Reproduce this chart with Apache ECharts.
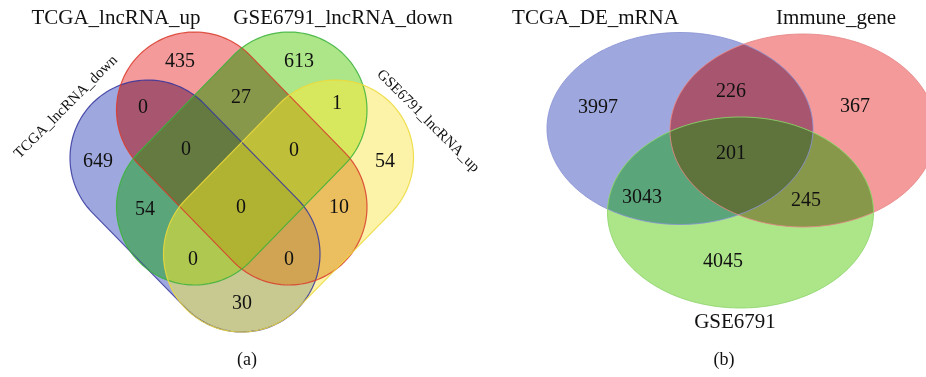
<!DOCTYPE html>
<html>
<head>
<meta charset="utf-8">
<script src="https://cdn.jsdelivr.net/npm/echarts@6/dist/echarts.min.js"></script>
<style>
html,body{margin:0;padding:0;background:#ffffff;}
#chart{width:926px;height:377px;}
</style>
</head>
<body>
<div id="chart"></div>
<script>
// ================= DATA =================
// Panel (a): four sets (B = blue, R = red, G = green, Y = yellow)
const setNamesA = ['TCGA_lncRNA_down', 'TCGA_lncRNA_up', 'GSE6791_lncRNA_down', 'GSE6791_lncRNA_up'];
const setKeysA = ['B', 'R', 'G', 'Y'];
const regionKeysA = ['B', 'R', 'G', 'Y', 'BR', 'RG', 'GY', 'BG', 'RY', 'BY', 'BRG', 'RGY', 'BGY', 'BRY', 'BRGY'];
const regionCountsA = [649, 435, 613, 54, 0, 27, 1, 54, 10, 30, 0, 0, 0, 0, 0];

// Panel (b): three sets
const setNamesB = ['TCGA_DE_mRNA', 'Immune_gene', 'GSE6791'];
const setKeysB = ['B', 'R', 'G'];
const regionKeysB = ['B', 'R', 'G', 'BR', 'BG', 'RG', 'BRG'];
const regionCountsB = [3997, 367, 4045, 226, 3043, 245, 201];

const panelLabels = ['(a)', '(b)'];

// ================= LAYOUT & STYLE =================
const W = 926, H = 377;
const shapesA = {
  B: { kind: 'capsule', p1: [148, 158], p2: [242, 254], r: 78 },
  R: { kind: 'capsule', p1: [194.5, 110], p2: [289, 207], r: 78 },
  G: { kind: 'capsule', p1: [289, 110], p2: [194.5, 207], r: 78 },
  Y: { kind: 'capsule', p1: [335.5, 158], p2: [241.5, 254], r: 78 }
};
const shapesB = {
  B: { kind: 'ellipse', c: [680, 128.5], rx: 133, ry: 96 },
  R: { kind: 'ellipse', c: [803, 130.5], rx: 133, ry: 96.5 },
  G: { kind: 'ellipse', c: [740.5, 212.5], rx: 133, ry: 95.5 }
};
const regionColorsA = {
  B: '#9FA8DE', R: '#F49A9A', G: '#ACE688', Y: '#FDF3A8',
  BR: '#A8566F', RG: '#88984A', GY: '#D7E85F', BG: '#5AA57A', RY: '#EBBE60', BY: '#C8C891',
  BRG: '#647A40', RGY: '#BFBF3A', BGY: '#AEC850', BRY: '#D0A452', BRGY: '#B0B232'
};
const regionColorsB = {
  B: '#9FA8DE', R: '#F49A9A', G: '#ACE688',
  BR: '#A8566F', BG: '#5AA57A', RG: '#88984A', BRG: '#5F733D'
};
const strokeA = { B: '#34359E', R: '#D93B2B', G: '#3BB23B', Y: '#EBD93A' };
const strokeB = { B: '#8993D4', R: '#E58686', G: '#8ED46B' };

const countPosA = [[98,162],[180,62],[299,62],[385,162],[143,108],[241,98],[337,104],[145,210],[339,208],[242,304],[186,150],[294,151],[193,260],[289,260],[241,208]];
const countPosB = [[598,108],[855,107],[723,262],[731,92],[642,198],[806,201],[731,154]];
const setLabelPosA = [[66,107,45,15],[116,18.5,0,21],[343,18.5,0,21],[428,121,-45,15]];
const setLabelPosB = [[595.5,18.5,0,21],[836,18.5,0,21],[735,322,0,21]];
const panelLabelPos = [[247,360],[724,360]];
const FONT = '"Liberation Serif", "Times New Roman", serif';

// ================= GEOMETRY =================
function capsulePts(s) {
  const [x1, y1] = s.p1, [x2, y2] = s.p2;
  const th = Math.atan2(y2 - y1, x2 - x1);
  const pts = [], N = 72;
  for (let i = 0; i <= N; i++) {
    const a = th - Math.PI / 2 + Math.PI * i / N;
    pts.push([x2 + s.r * Math.cos(a), y2 + s.r * Math.sin(a)]);
  }
  for (let i = 0; i <= N; i++) {
    const a = th + Math.PI / 2 + Math.PI * i / N;
    pts.push([x1 + s.r * Math.cos(a), y1 + s.r * Math.sin(a)]);
  }
  return pts;
}
function ellipsePts(s) {
  const pts = [], N = 240;
  for (let i = 0; i < N; i++) {
    const a = 2 * Math.PI * i / N;
    pts.push([s.c[0] + s.rx * Math.cos(a), s.c[1] + s.ry * Math.sin(a)]);
  }
  return pts;
}
function shapePts(s) { return s.kind === 'capsule' ? capsulePts(s) : ellipsePts(s); }
function clipConvex(subject, clipPoly) {
  let out = subject;
  const n = clipPoly.length;
  let area = 0;
  for (let i = 0; i < n; i++) {
    const a = clipPoly[i], b = clipPoly[(i + 1) % n];
    area += a[0] * b[1] - b[0] * a[1];
  }
  const sgn = area > 0 ? 1 : -1;
  for (let i = 0; i < n && out.length; i++) {
    const a = clipPoly[i], b = clipPoly[(i + 1) % n];
    if (Math.abs(a[0] - b[0]) < 1e-9 && Math.abs(a[1] - b[1]) < 1e-9) continue;
    const side = p => sgn * ((b[0] - a[0]) * (p[1] - a[1]) - (b[1] - a[1]) * (p[0] - a[0]));
    const inp = out; out = [];
    for (let j = 0; j < inp.length; j++) {
      const P = inp[j], Q = inp[(j + 1) % inp.length];
      const sp = side(P), sq = side(Q);
      if (sp >= 0) out.push(P);
      if ((sp >= 0) !== (sq >= 0)) {
        const t = sp / (sp - sq);
        out.push([P[0] + t * (Q[0] - P[0]), P[1] + t * (Q[1] - P[1])]);
      }
    }
  }
  return out;
}

function buildRegions(keys, shapes, colors) {
  const ptsByKey = {};
  Object.keys(shapes).forEach(k => { ptsByKey[k] = shapePts(shapes[k]); });
  const list = keys.map(key => {
    const letters = key.split('');
    let poly = ptsByKey[letters[0]];
    for (let i = 1; i < letters.length; i++) poly = clipConvex(poly, ptsByKey[letters[i]]);
    return { key, poly, color: colors[key], order: letters.length };
  });
  list.sort((a, b) => a.order - b.order);
  return { list, ptsByKey };
}

const regA = buildRegions(regionKeysA, shapesA, regionColorsA);
const regB = buildRegions(regionKeysB, shapesB, regionColorsB);
const regionDraw = regA.list.concat(regB.list);
const outlineDraw = setKeysA.map(k => ({ poly: regA.ptsByKey[k], stroke: strokeA[k], w: 1.2 }))
  .concat(setKeysB.map(k => ({ poly: regB.ptsByKey[k], stroke: strokeB[k], w: 1 })));

// text items
const textItems = [];
regionCountsA.forEach((v, i) => textItems.push({ x: countPosA[i][0], y: countPosA[i][1], text: String(v), size: 20, rot: 0 }));
regionCountsB.forEach((v, i) => textItems.push({ x: countPosB[i][0], y: countPosB[i][1], text: String(v), size: 20, rot: 0 }));
setNamesA.forEach((n, i) => textItems.push({ x: setLabelPosA[i][0], y: setLabelPosA[i][1], text: n, size: setLabelPosA[i][3], rot: setLabelPosA[i][2] }));
setNamesB.forEach((n, i) => textItems.push({ x: setLabelPosB[i][0], y: setLabelPosB[i][1], text: n, size: setLabelPosB[i][3], rot: setLabelPosB[i][2] }));
panelLabels.forEach((n, i) => textItems.push({ x: panelLabelPos[i][0], y: panelLabelPos[i][1], text: n, size: 18, rot: 0 }));

// ================= CHART =================
const chart = echarts.init(document.getElementById('chart'), null, { renderer: 'canvas' });
chart.setOption({
  animation: false,
  backgroundColor: '#ffffff',
  grid: { left: 0, right: 0, top: 0, bottom: 0 },
  xAxis: { type: 'value', min: 0, max: W, show: false },
  yAxis: { type: 'value', min: 0, max: H, inverse: true, show: false },
  series: [
    {
      type: 'custom', name: 'regions', coordinateSystem: 'cartesian2d', silent: true,
      data: regionDraw.map((d, i) => [i, 0]),
      renderItem: function (params, api) {
        const d = regionDraw[params.dataIndex];
        if (!d.poly || d.poly.length < 3) return null;
        return {
          type: 'polygon',
          shape: { points: d.poly.map(p => api.coord(p)) },
          style: { fill: d.color, stroke: null }
        };
      }
    },
    {
      type: 'custom', name: 'outlines', coordinateSystem: 'cartesian2d', silent: true,
      data: outlineDraw.map((d, i) => [i, 0]),
      renderItem: function (params, api) {
        const d = outlineDraw[params.dataIndex];
        return {
          type: 'polygon',
          shape: { points: d.poly.map(p => api.coord(p)) },
          style: { fill: null, stroke: d.stroke, lineWidth: d.w, opacity: 0.85 }
        };
      }
    },
    {
      type: 'custom', name: 'texts', coordinateSystem: 'cartesian2d', silent: true,
      data: textItems.map(t => [t.x, t.y]),
      renderItem: function (params, api) {
        const t = textItems[params.dataIndex];
        const p = api.coord([api.value(0), api.value(1)]);
        return {
          type: 'text',
          x: p[0], y: p[1],
          rotation: t.rot * Math.PI / 180,
          style: {
            text: t.text,
            font: t.size + 'px ' + FONT,
            fill: '#111111',
            align: 'center',
            verticalAlign: 'middle'
          }
        };
      }
    }
  ]
});
</script>
</body>
</html>
